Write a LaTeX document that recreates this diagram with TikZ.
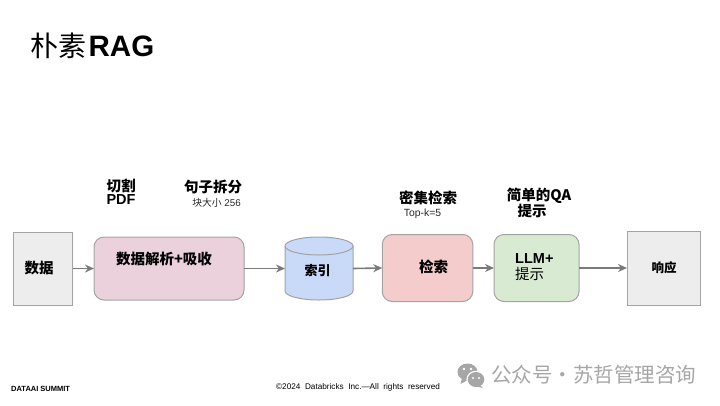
\documentclass[tikz,border=0pt]{standalone}
\usepackage{fontspec}
\usetikzlibrary{arrows.meta}
\setmainfont{Liberation Sans}
\newfontfamily\cjk{Noto Sans CJK SC}
\newfontfamily\cjkb{Noto Sans CJK SC Bold}
\definecolor{edgegray}{HTML}{A3A3A3}
\definecolor{arrowgray}{HTML}{7A7A7A}
\definecolor{boxgray}{HTML}{EDEDED}
\definecolor{pinkfill}{HTML}{EAD1DC}
\definecolor{bluefill}{HTML}{C9DAF8}
\definecolor{redfill}{HTML}{F4CCCC}
\definecolor{greenfill}{HTML}{D9EAD3}
\definecolor{wmgray}{HTML}{A6A6A6}
\tikzset{
  box/.style={draw=edgegray,line width=1pt,inner sep=0pt,outer sep=0pt},
  flow/.style={draw=arrowgray,line width=1.6pt,-{Stealth[length=9pt,width=8pt]}},
  head/.style={inner sep=0pt,align=center,font=\bfseries\fontsize{14.5}{13}\selectfont},
  note/.style={inner sep=0pt,text=black!85},
  foot/.style={inner sep=0pt,anchor=west,text=black},
}
\begin{document}
\begin{tikzpicture}[x=1pt,y=-1pt]
\useasboundingbox (0,0) rectangle (720,405);
% title
\node[inner sep=0pt,anchor=west] (title) at (30,45.5) {\fontsize{28}{28}\selectfont{\cjk 朴素}\hspace{2.5pt}\fontsize{29.5}{28}\selectfont\bfseries RAG};
% process boxes
\node[box,fill=boxgray,minimum width=59pt,minimum height=73pt] (data) at (43,268.5) {};
\node[box,fill=pinkfill,rounded corners=10pt,minimum width=150pt,minimum height=63pt] (parse) at (169,268.5) {};
\node[inner sep=0pt,outer sep=0pt,minimum width=68pt,minimum height=63pt] (index) at (319,268.5) {};
\draw[draw=edgegray,line width=1pt,fill=bluefill] (index.north west) ++(0,9) -- ++(0,45)
  arc[start angle=180,end angle=360,x radius=34pt,y radius=9pt] -- ++(0,-45) -- cycle;
\draw[draw=edgegray,line width=1pt,fill=bluefill] (index.north west) ++(0,9)
  arc[start angle=180,end angle=-180,x radius=34pt,y radius=9pt];
\node[box,fill=redfill,rounded corners=10pt,minimum width=90.5pt,minimum height=67pt] (retr) at (427.5,268) {};
\node[box,fill=greenfill,rounded corners=10pt,minimum width=85pt,minimum height=67pt] (llm) at (536.5,268) {};
\node[box,fill=boxgray,minimum width=73pt,minimum height=74pt] (resp) at (663.5,268) {};
% box texts
\node[head] (t1) at (39,268) {\cjkb 数据};
\node[head] (t2) at (164,259.5) {\cjkb 数据解析+吸收};
\node[head,font=\bfseries\fontsize{13}{13}\selectfont] (t3) at (317.5,270.5) {\cjkb 索引};
\node[head] (t4) at (433.5,267) {\cjkb 检索};
\node[inner sep=0pt,align=left,anchor=west,font=\fontsize{14.5}{16}\selectfont] (t5) at (515,267.5) {\textbf{LLM+}\\{\cjk 提示}};
\node[head,font=\bfseries\fontsize{12.5}{13}\selectfont] (t6) at (664,267.5) {\cjkb 响应};
% annotations
\node[head,align=left] (a1) at (121,192) {{\cjkb 切割}\\PDF};
\node[head] (a2) at (213,187) {\cjkb 句子拆分};
\node[note,font=\fontsize{9.8}{10}\selectfont] (a3) at (216.5,202.5) {{\cjk 块大小} 256};
\node[head] (a4) at (428,198) {\cjkb 密集检索};
\node[note,font=\fontsize{10.4}{10}\selectfont] (a5) at (422.5,213.5) {Top-k=5};
\node[head,align=center] (a6) at (539,203) {{\cjkb 简单的QA}\\{\cjkb 提示}\hspace*{14pt}};
% connectors
\draw[flow] (data.east) -- (parse.west);
\draw[flow] (parse.east) -- (index.west);
\draw[flow] (index.east) -- (retr.west);
\draw[flow] (retr.east) -- (llm.west);
\draw[flow] (llm.east) -- (resp.west);
% footer
\node[foot,font=\bfseries\fontsize{7.5}{8}\selectfont] (f1) at (11,389) {DATAAI SUMMIT};
\node[foot,font=\fontsize{8.2}{8}\selectfont] (f2) at (276,387) {©2024\ \ Databricks\ \ Inc.—All\ \ rights\ \ reserved};
% watermark
\fill[wmgray] (467.5,372) ellipse [x radius=10pt,y radius=8.5pt];
\fill[wmgray] (462,378) -- (460.5,384) -- (468,380) -- cycle;
\fill[white] (476,379.5) ellipse [x radius=9.6pt,y radius=8.8pt];
\fill[wmgray] (476,379.5) ellipse [x radius=8.3pt,y radius=7.5pt];
\fill[wmgray] (480,385) -- (483,388) -- (475,386) -- cycle;
\fill[white] (464,369) circle (1.4pt) (471,369) circle (1.4pt) (473,378) circle (1.1pt) (479,378) circle (1.1pt);
\node[inner sep=0pt,anchor=west,text=wmgray,font=\fontsize{20.5}{21}\selectfont] (wm) at (491,375) {\cjk 公众号\makebox[20.5pt]{·}苏哲管理咨询};
\end{tikzpicture}
\end{document}
